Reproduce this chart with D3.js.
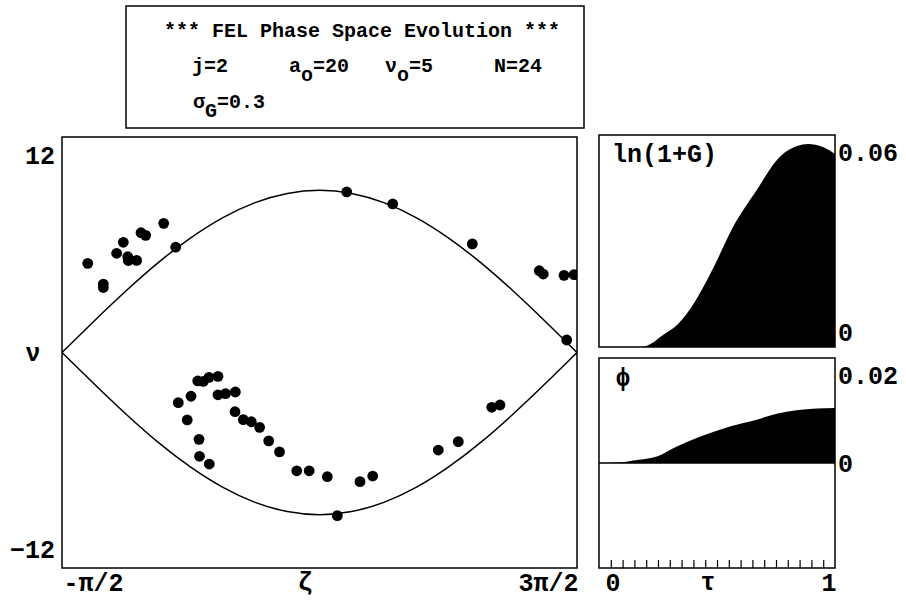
<!DOCTYPE html>
<html>
<head>
<meta charset="utf-8">
<script src="https://cdn.jsdelivr.net/npm/d3@7"></script>
<style>
  html, body { margin: 0; padding: 0; background: #fff; }
  svg text { font-family: 'Liberation Mono', 'Courier New', monospace; font-weight: bold; fill: #000; }
</style>
</head>
<body>
<svg id="chart" width="906" height="602"></svg>
<script>
// ---------- DATA ----------
// Particle phase-space points (zeta, nu)
const dotZeta = [-1.257, -1.067, -1.067, -0.904, -0.823, -0.769, -0.762, -0.660, -0.607, -0.550,
  -0.330, -0.184, 1.903, 2.464, 3.435, 4.252, 4.301, 4.554, 4.676, 4.587,
  -0.152, 0.003, 0.085, 0.153, 0.223, 0.332, 0.332, 0.424, 0.544, -0.043,
  0.540, 0.641, 0.739, 0.840, 0.101, 0.107, 0.226, 0.951, 1.083, 1.293,
  1.445, 1.666, 2.065, 2.220, 1.788, 3.020, 3.264, 3.672, 3.773];
const dotNu = [5.42, 4.16, 3.95, 6.03, 6.70, 5.82, 5.59, 5.60, 7.28, 7.12,
  7.85, 6.40, 9.76, 9.03, 6.60, 4.97, 4.77, 4.69, 4.73, 0.76,
  -3.05, -2.66, -1.73, -1.76, -1.51, -1.45, -2.57, -2.50, -2.40, -4.10,
  -3.60, -4.08, -4.21, -4.55, -5.28, -6.31, -6.78, -5.37, -6.04, -7.19,
  -7.19, -7.55, -7.85, -7.51, -9.92, -5.93, -5.42, -3.33, -3.19];

// Separatrix (upper branch; lower branch is its mirror)
const sepZeta = [-1.571, -1.178, -0.785, -0.393, 0.000, 0.393, 0.785, 1.178, 1.571,
  1.963, 2.356, 2.749, 3.142, 3.534, 3.927, 4.320, 4.712];
const sepNu = [0, 1.92, 3.77, 5.48, 6.97, 8.20, 9.11, 9.67, 9.86,
  9.67, 9.11, 8.20, 6.97, 5.48, 3.77, 1.92, 0];

// Gain ln(1+G) vs tau
const gainTau = [0, 0.10, 0.18, 0.22, 0.265, 0.335, 0.407, 0.449, 0.49, 0.568, 0.669, 0.754, 0.839, 0.886, 0.949, 1.0];
const gainVal = [-0.0047, -0.0047, -0.0047, -0.0036, -0.0010, 0.0030, 0.0105, 0.0163, 0.0226, 0.0353, 0.0477, 0.0577, 0.0623, 0.0630, 0.0620, 0.0597];

// Phase phi vs tau
const phaseTau = [0, 0.10, 0.145, 0.245, 0.33, 0.43, 0.555, 0.668, 0.753, 0.837, 0.922, 1.0];
const phaseVal = [0, 0.0002, 0.0006, 0.0015, 0.0038, 0.0061, 0.0084, 0.00995, 0.0113, 0.0121, 0.0125, 0.01264];

// Tick labels
const zetaTicks = [-Math.PI / 2, 3 * Math.PI / 2];
const zetaTickLabels = ["-\u03C0/2", "3\u03C0/2"];
const nuTicks = [12, -12];
const gainTicks = [0.06, 0];
const gainTickLabels = ["0.06", "0"];
const phaseTicks = [0.02, 0];
const phaseTickLabels = ["0.02", "0"];
const tauTicks = [0, 1];
const tauMinorTicks = [0.05, 0.10, 0.15, 0.20, 0.25, 0.30, 0.35, 0.40, 0.45, 0.50, 0.55, 0.60, 0.65, 0.70, 0.75, 0.80, 0.85, 0.90, 0.95];

// ---------- DRAW ----------
const svg = d3.select("#chart");
const black = "#000";

// Title box
svg.append("rect").attr("x", 126).attr("y", 6).attr("width", 458).attr("height", 122)
  .attr("fill", "none").attr("stroke", black).attr("stroke-width", 1.5);
const tFont = 20;
svg.append("text").attr("x", 362).attr("y", 37).attr("text-anchor", "middle")
  .attr("font-size", tFont).text("*** FEL Phase Space Evolution ***");
function subText(x, y, main, sub, rest) {
  const t = svg.append("text").attr("x", x).attr("y", y).attr("font-size", tFont);
  t.append("tspan").text(main);
  t.append("tspan").attr("dy", 9).text(sub);
  t.append("tspan").attr("dy", -9).text(rest);
}
svg.append("text").attr("x", 192).attr("y", 72).attr("font-size", tFont).text("j=2");
subText(289, 72, "a", "o", "=20");
subText(385, 72, "\u03BD", "o", "=5");
svg.append("text").attr("x", 494).attr("y", 72).attr("font-size", tFont).text("N=24");
subText(193, 108, "\u03C3", "G", "=0.3");

// Main phase-space plot
const M = { l: 62, r: 577, t: 137, b: 568 };
const x = d3.scaleLinear().domain([-Math.PI / 2, 3 * Math.PI / 2]).range([M.l, M.r]);
const y = d3.scaleLinear().domain([-13.1, 13.1]).range([M.b, M.t]);

svg.append("clipPath").attr("id", "clipMain").append("rect")
  .attr("x", M.l).attr("y", M.t).attr("width", M.r - M.l).attr("height", M.b - M.t);

const sepLine = d3.line().curve(d3.curveNatural);
const upper = sepZeta.map((z, i) => [x(z), y(sepNu[i])]);
const lower = sepZeta.map((z, i) => [x(z), y(-sepNu[i])]);
const gMain = svg.append("g").attr("clip-path", "url(#clipMain)");
gMain.append("path").attr("d", sepLine(upper)).attr("fill", "none").attr("stroke", black).attr("stroke-width", 1.5);
gMain.append("path").attr("d", sepLine(lower)).attr("fill", "none").attr("stroke", black).attr("stroke-width", 1.5);
gMain.selectAll("circle.dot").data(dotZeta.map((z, i) => [z, dotNu[i]])).enter()
  .append("circle").attr("class", "dot")
  .attr("cx", d => x(d[0])).attr("cy", d => y(d[1])).attr("r", 5.4).attr("fill", black);

svg.append("rect").attr("x", M.l).attr("y", M.t).attr("width", M.r - M.l).attr("height", M.b - M.t)
  .attr("fill", "none").attr("stroke", black).attr("stroke-width", 1.5);

const aFont = 25;
const labelY = 590;
// x axis labels
const xAxis = d3.axisBottom(x).tickValues(zetaTicks).tickSize(0).tickPadding(5)
  .tickFormat((d, i) => zetaTickLabels[i]);
const gx = svg.append("g").attr("transform", `translate(0,${M.b})`).call(xAxis);
gx.select(".domain").remove();
gx.selectAll("text").attr("font-size", aFont).attr("font-family", null)
  .attr("text-anchor", (d, i) => i === 0 ? "start" : "end")
  .attr("dx", 1);
svg.append("text").attr("x", 305).attr("y", labelY).attr("text-anchor", "middle").attr("font-size", aFont).text("\u03B6");

// y axis labels
const yAxis = d3.axisLeft(y).tickValues(nuTicks).tickSize(0).tickPadding(7).tickFormat(d3.format("d"));
const gy = svg.append("g").attr("transform", `translate(${M.l},0)`).call(yAxis);
gy.select(".domain").remove();
gy.selectAll("text").attr("font-size", aFont).attr("font-family", null);
svg.append("text").attr("x", 33).attr("y", y(0)).attr("dy", "0.32em").attr("text-anchor", "middle")
  .attr("font-size", aFont).text("\u03BD");

// Gain panel
const G = { l: 599, r: 835, t: 135, b: 347 };
const xt = d3.scaleLinear().domain([0, 1]).range([G.l, G.r]);
const yg = d3.scaleLinear().domain([-0.0047, 0.066]).range([G.b, G.t]);
const gainArea = d3.area().curve(d3.curveMonotoneX)
  .x(d => xt(d[0])).y0(G.b).y1(d => yg(d[1]));
svg.append("path").attr("d", gainArea(gainTau.map((t, i) => [t, gainVal[i]]))).attr("fill", black);
svg.append("rect").attr("x", G.l).attr("y", G.t).attr("width", G.r - G.l).attr("height", G.b - G.t)
  .attr("fill", "none").attr("stroke", black).attr("stroke-width", 1.5);
const gyAxis = d3.axisRight(yg).tickValues(gainTicks).tickSize(0).tickPadding(3)
  .tickFormat((d, i) => gainTickLabels[i]);
const ggy = svg.append("g").attr("transform", `translate(${G.r},0)`).call(gyAxis);
ggy.select(".domain").remove();
ggy.selectAll("text").attr("font-size", aFont).attr("font-family", null);
svg.append("text").attr("x", 612).attr("y", 162).attr("font-size", aFont).text("ln(1+G)");

// Phase panel
const P = { l: 599, r: 835, t: 358, b: 568 };
const yp = d3.scaleLinear().domain([-0.0241, 0.0241]).range([P.b, P.t]);
const phaseArea = d3.area().curve(d3.curveMonotoneX)
  .x(d => xt(d[0])).y0(yp(0)).y1(d => yp(d[1]));
svg.append("path").attr("d", phaseArea(phaseTau.map((t, i) => [t, phaseVal[i]]))).attr("fill", black);
svg.append("line").attr("x1", P.l).attr("x2", P.r).attr("y1", yp(0)).attr("y2", yp(0))
  .attr("stroke", black).attr("stroke-width", 1.5);
svg.append("rect").attr("x", P.l).attr("y", P.t).attr("width", P.r - P.l).attr("height", P.b - P.t)
  .attr("fill", "none").attr("stroke", black).attr("stroke-width", 1.5);
const pyAxis = d3.axisRight(yp).tickValues(phaseTicks).tickSize(0).tickPadding(3)
  .tickFormat((d, i) => phaseTickLabels[i]);
const gpy = svg.append("g").attr("transform", `translate(${P.r},0)`).call(pyAxis);
gpy.select(".domain").remove();
gpy.selectAll("text").attr("font-size", aFont).attr("font-family", null);
svg.append("text").attr("x", 623).attr("y", 377).attr("dy", "0.35em").attr("text-anchor", "middle")
  .attr("font-size", aFont).text("\u03D5");

// tau minor ticks (pointing inward)
const tMinor = d3.axisBottom(xt).tickValues(tauMinorTicks).tickSizeInner(-8).tickSizeOuter(0).tickFormat("");
const gtm = svg.append("g").attr("transform", `translate(0,${P.b})`).call(tMinor);
gtm.select(".domain").remove();
gtm.selectAll("line").attr("stroke", black).attr("stroke-width", 1.2);

// tau labels
const tAxis = d3.axisBottom(xt).tickValues(tauTicks).tickSize(0).tickPadding(5).tickFormat(d3.format("d"));
const gt = svg.append("g").attr("transform", `translate(0,${P.b})`).call(tAxis);
gt.select(".domain").remove();
gt.selectAll("text").attr("font-size", aFont).attr("font-family", null)
  .attr("text-anchor", (d, i) => i === 0 ? "start" : "end")
  .attr("dx", (d, i) => i === 0 ? 6 : 1);
svg.append("text").attr("x", 708).attr("y", labelY).attr("text-anchor", "middle").attr("font-size", aFont).text("\u03C4");
</script>
</body>
</html>
